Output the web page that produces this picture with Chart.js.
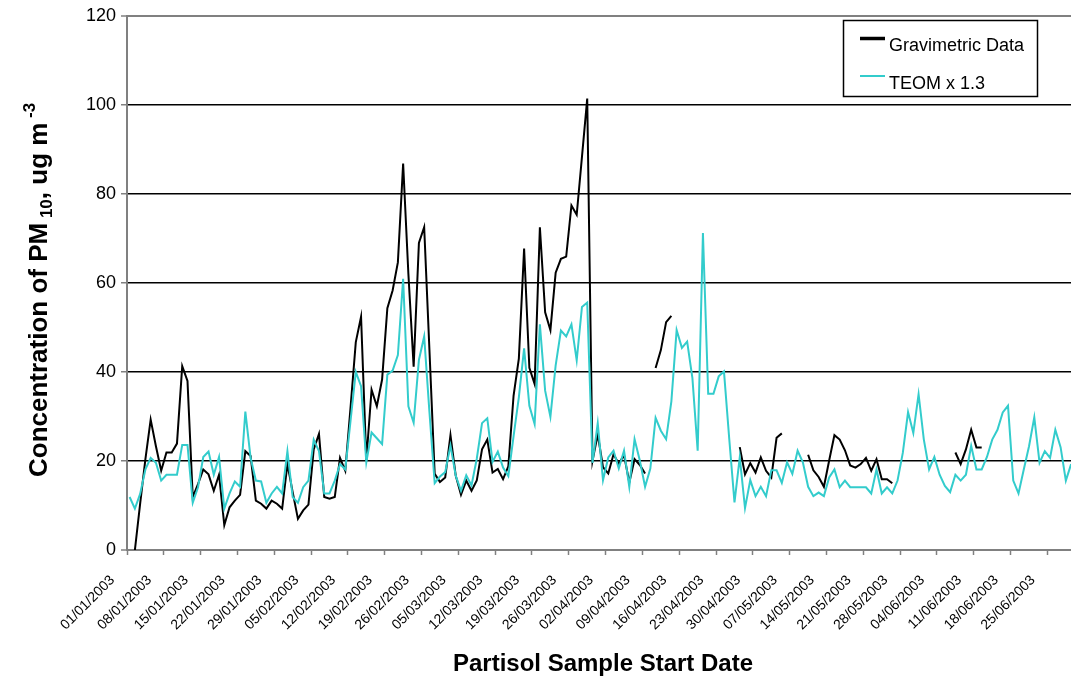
<!DOCTYPE html>
<html>
<head>
<meta charset="utf-8">
<title>PM10 - Gravimetric vs TEOM</title>
<script src="https://cdn.jsdelivr.net/npm/chart.js@4.4.1/dist/chart.umd.min.js"></script>
<style>
    html, body { margin: 0; padding: 0; background: #fff; overflow: hidden; }
    #wrap { position: absolute; left: 0; top: 0; width: 1080px; height: 679px; }
</style>
</head>
<body>
<div id="wrap"><canvas id="chart-pm10" width="1080" height="679"></canvas></div>
<script>
(function () {
    'use strict';

    /* =====================================================
       DATA (daily, 01/01/2003 - 30/06/2003)
       ===================================================== */
    var startDay = '2003-01-01';
    var dayCount = 181;
    var tickEvery = 7;

    var gravimetric = [
        null, 0, 10.4, 20.4, 29.3, 23.3, 17.8, 21.9, 21.9, 23.9,
        41.3, 38, 11.9, 14.8, 18.1, 17, 13.3, 16.9, 5.6, 9.6,
        11.1, 12.4, 22.2, 21.1, 11.1, 10.4, 9.3, 11.1, 10.4, 9.3,
        19.3, 13, 7, 8.9, 10.2, 22.6, 26.1, 11.9, 11.5, 11.9,
        20.7, 17.8, 32, 46.7, 52.4, 20.1, 36, 32.3, 38.3, 54.3,
        58.3, 64.6, 86.8, 62, 41.2, 69, 72.5, 45, 17.1, 15.3,
        16.3, 25.8, 16.7, 12.4, 15.6, 13.3, 15.6, 22.6, 24.8, 17.4,
        18.2, 15.9, 18.8, 34.7, 43, 67.7, 40.9, 37.3, 72.5, 53.4,
        49.4, 62.3, 65.4, 65.9, 77.4, 75.3, 88.3, 101.4, 20, 26,
        18.6, 17.2, 21.5, 19.4, 21.3, 15.2, 20.4, 19.1, 17.2, null,
        40.9, 44.9, 51.2, 52.6, null, null, null, null, null, null,
        null, null, null, null, null, null, 23.1, 17, 19.5, 17.4,
        20.8, 17.8, 16.3, 25.2, 26.2, null, null, null, null, 21.4,
        17.9, 16.4, 14.2, 20.1, 25.8, 24.8, 22.4, 19, 18.5, 19.3,
        20.7, 17.8, 20.4, 15.9, 15.9, 15, null, null, null, null,
        null, null, null, null, null, null, null, 21.9, 19.3, 22.6,
        27, 23, 23, null, null, null, null, null, null, null,
        null, null, null, null, null, null, null, null, null, null,
        null
    ];

    var teom = [
        11.9, 9.3, 12.6, 18.1, 20.7, 19.6, 15.6, 16.9, 16.9, 16.9,
        23.6, 23.6, 10.6, 14.1, 20.9, 22.1, 16.9, 20.9, 9.3, 12.7,
        15.4, 14.2, 31.1, 20.7, 15.6, 15.4, 10.6, 12.7, 14.2, 12.7,
        22.2, 11.9, 10.6, 14.1, 15.6, 24.8, 22.2, 12.7, 12.7, 15.6,
        19.3, 18.1, 29, 40, 36.8, 19.7, 26.4, 25.1, 23.8, 39.4,
        40.3, 43.8, 60.9, 32.3, 28.6, 42.7, 48, 31, 15, 16.5,
        17.5, 23.5, 16.7, 13.3, 16.8, 14.5, 20.5, 28.5, 29.6, 19.8,
        22.1, 18.5, 16.6, 25.6, 34.3, 45.3, 32.4, 28.3, 50.7, 35.8,
        29.9, 41.5, 49.3, 48, 50.7, 42.6, 54.6, 55.6, 19.6, 28.5,
        15.7, 20.8, 22.3, 18.3, 22.3, 14.2, 24.9, 20.1, 14.2, 18.3,
        29.7, 26.8, 24.9, 33.4, 49.4, 45.4, 46.8, 38.6, 22.3, 71.2,
        35.1, 35.1, 39, 40.1, 25, 10.7, 20.8, 9.4, 15.7, 12.1,
        14.2, 12.1, 17.9, 17.9, 15.1, 19.7, 17.1, 22.3, 19.7, 14.2,
        12.1, 12.9, 12.1, 16.3, 18.1, 14.1, 15.6, 14.1, 14.1, 14.1,
        14.1, 12.7, 18.1, 12.7, 14.1, 12.7, 15.6, 21.8, 31, 26.3,
        35, 24.8, 18.1, 20.9, 16.9, 14.4, 13, 16.9, 15.6, 16.9,
        23.4, 18.1, 18.1, 20.9, 24.8, 27, 30.9, 32.4, 15.6, 12.7,
        18.1, 23.3, 29.8, 19.6, 22.2, 20.7, 27, 23.1, 15.6, 19.3,
        null
    ];

    var yTicks = [0, 20, 40, 60, 80, 100, 120];

    var seriesNames = ['Gravimetric Data', 'TEOM x 1.3'];
    var xTitle = 'Partisol Sample Start Date';

    var colors = {
        grav: '#000000',
        teom: '#33CCCC',
        axis: '#808080',
        grid: '#000000'
    };

    var FONT = '"Liberation Sans", Arial, Helvetica, sans-serif';

    /* =====================================================
       CATEGORIES (one per sample day)
       ===================================================== */
    function pad(n) { return n < 10 ? '0' + n : '' + n; }

    function buildDays() {
        var out = [];
        var d = new Date(startDay + 'T00:00:00Z');
        for (var i = 0; i < dayCount; i++) {
            out.push(pad(d.getUTCDate()) + '/' + pad(d.getUTCMonth() + 1) + '/' + d.getUTCFullYear());
            d.setUTCDate(d.getUTCDate() + 1);
        }
        return out;
    }

    var days = buildDays();

    /* =====================================================
       PLUGIN: y title with sub/superscript + boxed legend
       ===================================================== */
    var decorations = {
        id: 'decorations',
        afterDraw: function (chart) {
            var ctx = chart.ctx;
            var area = chart.chartArea;

            // y axis title
            var parts = [
                { text: 'Concentration of PM', size: 26, dy: 0 },
                { text: ' 10', size: 17, dy: 5 },
                { text: ', ug m', size: 26, dy: 0 },
                { text: ' -3', size: 17, dy: -12 }
            ];
            ctx.save();
            ctx.fillStyle = '#000';
            ctx.textBaseline = 'alphabetic';
            ctx.textAlign = 'left';
            var total = 0;
            parts.forEach(function (p) {
                ctx.font = 'bold ' + p.size + 'px ' + FONT;
                p.w = ctx.measureText(p.text).width;
                total += p.w;
            });
            ctx.translate(47, (area.top + area.bottom) / 2 + 7);
            ctx.rotate(-Math.PI / 2);
            var x = -total / 2;
            parts.forEach(function (p) {
                ctx.font = 'bold ' + p.size + 'px ' + FONT;
                ctx.fillText(p.text, x, p.dy);
                x += p.w;
            });
            ctx.restore();

            // legend box
            ctx.save();
            ctx.fillStyle = '#fff';
            ctx.fillRect(843.5, 20.5, 194, 76);
            ctx.strokeStyle = '#000';
            ctx.lineWidth = 1.5;
            ctx.strokeRect(843.5, 20.5, 194, 76);

            ctx.lineWidth = 3.5;
            ctx.strokeStyle = colors.grav;
            ctx.beginPath(); ctx.moveTo(860, 38.5); ctx.lineTo(885, 38.5); ctx.stroke();
            ctx.lineWidth = 2;
            ctx.strokeStyle = colors.teom;
            ctx.beginPath(); ctx.moveTo(860, 76); ctx.lineTo(885, 76); ctx.stroke();

            ctx.fillStyle = '#000';
            ctx.font = '18px ' + FONT;
            ctx.textBaseline = 'alphabetic';
            ctx.fillText(seriesNames[0], 889, 50.5);
            ctx.fillText(seriesNames[1], 889, 88.5);
            ctx.restore();
        }
    };

    /* =====================================================
       CHART
       ===================================================== */
    function isWeekTick(c) {
        return c.index % tickEvery === 0;
    }

    function initChart() {
        if (typeof Chart === 'undefined') return;
        var canvas = document.getElementById('chart-pm10');

        new Chart(canvas.getContext('2d'), {
            type: 'line',
            data: {
                labels: days,
                datasets: [
                    {
                        label: seriesNames[0],
                        data: gravimetric,
                        borderColor: colors.grav,
                        borderWidth: 2,
                        pointRadius: 0,
                        tension: 0,
                        spanGaps: false,
                        fill: false,
                        order: 1
                    },
                    {
                        label: seriesNames[1],
                        data: teom,
                        borderColor: colors.teom,
                        borderWidth: 2,
                        pointRadius: 0,
                        tension: 0,
                        spanGaps: false,
                        fill: false,
                        order: 0
                    }
                ]
            },
            options: {
                responsive: false,
                animation: false,
                devicePixelRatio: 1,
                layout: { padding: { top: 13, right: 1, left: 0, bottom: 0 } },
                plugins: {
                    legend: { display: false },
                    tooltip: { enabled: false }
                },
                scales: {
                    x: {
                        type: 'category',
                        offset: true,
                        grid: {
                            offset: true,
                            drawOnChartArea: false,
                            drawTicks: true,
                            tickLength: 5,
                            tickWidth: 1.5,
                            tickColor: function (c) { return isWeekTick(c) ? colors.axis : 'rgba(0,0,0,0)'; },
                            color: function (c) { return isWeekTick(c) ? colors.axis : 'rgba(0,0,0,0)'; }
                        },
                        border: { color: colors.axis, width: 2 },
                        ticks: {
                            autoSkip: false,
                            minRotation: 45,
                            maxRotation: 45,
                            padding: 17,
                            labelOffset: -17,
                            color: '#000',
                            font: { family: FONT, size: 14 },
                            callback: function (value, index) {
                                return index % tickEvery === 0 ? this.getLabelForValue(value) : '';
                            }
                        },
                        title: {
                            display: true,
                            text: xTitle,
                            color: '#000',
                            font: { family: FONT, size: 24, weight: 'bold' },
                            padding: { top: 0, bottom: 0 }
                        },
                        afterFit: function (scale) {
                            scale.height = 129;
                            scale.paddingLeft = 0;
                            scale.paddingRight = 0;
                        }
                    },
                    y: {
                        min: yTicks[0],
                        max: yTicks[yTicks.length - 1],
                        afterBuildTicks: function (scale) {
                            scale.ticks = yTicks.map(function (v) { return { value: v }; });
                        },
                        grid: {
                            color: function (c) {
                                var v = c.tick && c.tick.value;
                                return (v === 0 || v === 120) ? colors.axis : colors.grid;
                            },
                            lineWidth: function (c) {
                                var v = c.tick && c.tick.value;
                                return (v === 0 || v === 120) ? 2 : 1.5;
                            },
                            tickLength: 6,
                            tickColor: colors.axis,
                            tickWidth: 1.5
                        },
                        border: { color: colors.axis, width: 2 },
                        ticks: {
                            padding: 5,
                            color: '#000',
                            font: { family: FONT, size: 18 }
                        },
                        afterFit: function (scale) { scale.width = 127; }
                    }
                }
            },
            plugins: [decorations]
        });
    }

    function onReady(fn) {
        if (document.readyState !== 'loading') {
            fn();
        } else {
            document.addEventListener('DOMContentLoaded', fn);
        }
    }

    onReady(initChart);
})();
</script>
</body>
</html>
